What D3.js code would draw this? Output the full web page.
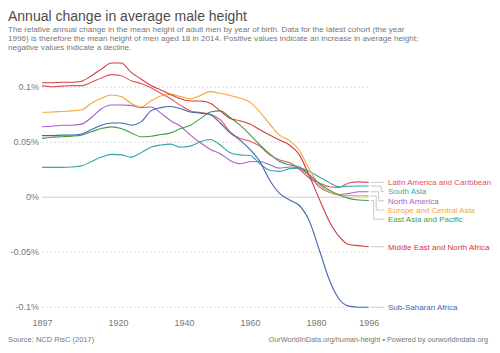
<!DOCTYPE html>
<html>
<head>
<meta charset="utf-8">
<script src="https://cdn.jsdelivr.net/npm/d3@7"></script>
<style>
  body { margin: 0; background: #fff; }
  svg { font-family: "Liberation Sans", Arial, Helvetica, sans-serif; display: block; }
  .axis text { fill: #777; font-size: 9px; }
</style>
</head>
<body>
<svg id="chart"></svg>
<script>
// cohort year of birth
const years = [1897, 1900, 1903, 1906, 1909, 1912, 1915, 1918, 1921, 1924, 1927, 1930,
  1933, 1936, 1939, 1942, 1945, 1948, 1951, 1954, 1957, 1960, 1963, 1966,
  1969, 1972, 1975, 1978, 1981, 1984, 1987, 1990, 1993, 1996];

// annual change in %
const latinAmerica = [0.101, 0.100, 0.1005, 0.101, 0.101, 0.104, 0.108, 0.111, 0.110, 0.1055, 0.103, 0.099,
  0.094, 0.089, 0.083, 0.078, 0.0765, 0.075, 0.070, 0.059, 0.053, 0.0505, 0.046, 0.038,
  0.0333, 0.031, 0.025, 0.017, 0.0125, 0.009, 0.0085, 0.0125, 0.0135, 0.013];
const southAsia = [0.0267, 0.0267, 0.0267, 0.027, 0.028, 0.032, 0.036, 0.0385, 0.038, 0.036, 0.040, 0.045,
  0.047, 0.0478, 0.045, 0.046, 0.050, 0.052, 0.047, 0.040, 0.038, 0.0375, 0.030, 0.024,
  0.023, 0.0255, 0.026, 0.023, 0.018, 0.013, 0.009, 0.0095, 0.0097, 0.0097];
const northAmerica = [0.0636, 0.064, 0.065, 0.065, 0.066, 0.072, 0.080, 0.0834, 0.0834, 0.083, 0.081, 0.0815,
  0.076, 0.069, 0.064, 0.056, 0.049, 0.043, 0.039, 0.033, 0.030, 0.0318, 0.032, 0.029,
  0.026, 0.027, 0.026, 0.019, 0.009, 0.004, 0.002, 0.003, 0.0045, 0.0045];
const europeCentralAsia = [0.0767, 0.077, 0.0775, 0.078, 0.079, 0.085, 0.0895, 0.0925, 0.091, 0.085, 0.0815, 0.087,
  0.0915, 0.093, 0.091, 0.089, 0.092, 0.0955, 0.094, 0.092, 0.0895, 0.086, 0.077, 0.066,
  0.056, 0.051, 0.042, 0.025, 0.011, 0.0045, 0.0015, 0.001, 0.0008, 0.0007];
const eastAsiaPacific = [0.053, 0.054, 0.0545, 0.055, 0.056, 0.059, 0.062, 0.0635, 0.062, 0.058, 0.0545, 0.055,
  0.0565, 0.058, 0.062, 0.065, 0.071, 0.077, 0.078, 0.072, 0.065, 0.0565, 0.047, 0.039,
  0.032, 0.029, 0.027, 0.020, 0.012, 0.006, 0.0015, -0.0015, -0.003, -0.0035];
const middleEast = [0.1036, 0.1036, 0.104, 0.104, 0.105, 0.110, 0.116, 0.1215, 0.1215, 0.113, 0.107, 0.101,
  0.097, 0.093, 0.089, 0.087, 0.087, 0.085, 0.078, 0.071, 0.069, 0.066, 0.061, 0.056,
  0.0515, 0.047, 0.038, 0.019, -0.002, -0.022, -0.036, -0.0435, -0.0445, -0.0455];
const subSaharan = [0.0555, 0.0555, 0.056, 0.056, 0.057, 0.061, 0.065, 0.067, 0.067, 0.065, 0.068, 0.078,
  0.081, 0.082, 0.080, 0.077, 0.076, 0.0745, 0.067, 0.058, 0.0515, 0.043, 0.032, 0.015,
  0.003, -0.003, -0.008, -0.022, -0.048, -0.075, -0.093, -0.0995, -0.1005, -0.1005];

const regionNames = ["Latin America and Caribbean", "South Asia", "North America",
  "Europe and Central Asia", "East Asia and Pacific", "Middle East and North Africa", "Sub-Saharan Africa"];
const regionColors = ["#e0525c", "#35a7a5", "#a95fc8", "#f3a73a", "#3f9e4c", "#d6393b", "#4466b0"];
const regionValues = [latinAmerica, southAsia, northAmerica, europeCentralAsia, eastAsiaPacific, middleEast, subSaharan];

const yTicks = [-0.1, -0.05, 0, 0.05, 0.1];
const xTicks = [1897, 1920, 1940, 1960, 1980, 1996];

const W = 500, H = 353;
const svg = d3.select("#chart").attr("width", W).attr("height", H);

const x = d3.scaleLinear().domain([1897, 1996]).range([42, 368.7]);
const y = d3.scaleLinear().domain([-0.1, 0.1]).range([306.7, 86.7]);

// header
svg.append("text").attr("x", 8).attr("y", 21)
  .attr("font-size", 14).attr("fill", "#4d4d4d")
  .text("Annual change in average male height");
const sub = [
  "The relative annual change in the mean height of adult men by year of birth. Data for the latest cohort (the year",
  "1996) is therefore the mean height of men aged 18 in 2014. Positive values indicate an increase in average height;",
  "negative values indicate a decline."
];
svg.append("g").selectAll("text").data(sub).join("text")
  .attr("x", 8).attr("y", (d, i) => 31.7 + i * 9.3)
  .attr("font-size", 8.1).attr("fill", "#777").text(d => d);

// grid + y axis (hyphen minus like the original)
const yAxis = d3.axisLeft(y).tickValues(yTicks)
  .tickSize(-(x.range()[1] - x.range()[0]))
  .tickPadding(3)
  .tickFormat(d => String(+d.toFixed(2)) + "%");
svg.append("g").attr("class", "axis grid")
  .attr("transform", `translate(${x.range()[0]},0)`)
  .call(yAxis)
  .call(g => g.select(".domain").remove())
  .call(g => g.selectAll(".tick line")
    .attr("stroke", d => d === 0 ? "#ccc" : "#ddd")
    .attr("stroke-dasharray", d => d === 0 ? null : "2,2"));

// x axis labels
const xAxis = d3.axisBottom(x).tickValues(xTicks).tickSize(0).tickPadding(0).tickFormat(d3.format("d"));
svg.append("g").attr("class", "axis")
  .attr("transform", `translate(0,${y(-0.1) + 13})`)
  .call(xAxis)
  .call(g => g.select(".domain").remove());

// lines
const regions = regionNames.map((name, i) => ({
  name, color: regionColors[i],
  points: years.map((yr, j) => ({year: yr, value: regionValues[i][j]}))
}));

const line = d3.line().x(d => x(d.year)).y(d => y(d.value)).curve(d3.curveMonotoneX);
svg.append("g").selectAll("path").data(regions).join("path")
  .attr("d", d => line(d.points))
  .attr("fill", "none")
  .attr("stroke", d => d.color)
  .attr("stroke-width", 1.1);

// labels with simple collision avoidance
const labelX = 388;
const ends = regions.map(r => ({r, yEnd: y(r.points[r.points.length - 1].value)}))
  .sort((a, b) => a.yEnd - b.yEnd);
let prev = -Infinity;
ends.forEach(e => { e.yLab = Math.max(e.yEnd, prev + 9.2); prev = e.yLab; });

const shifted = ends.filter(e => Math.abs(e.yLab - e.yEnd) > 1);
const x0 = x(1996) + 2;
ends.forEach(e => {
  let pts;
  if (Math.abs(e.yLab - e.yEnd) > 1) {
    const k = shifted.length - 1 - shifted.indexOf(e);
    const vx = x0 + 3 + k * 2.5;
    pts = [[x0, e.yEnd], [vx, e.yEnd], [vx, e.yLab], [labelX - 4, e.yLab]];
  } else {
    pts = [[x0, e.yEnd], [labelX - 4, e.yLab]];
  }
  svg.append("path").attr("d", d3.line()(pts))
    .attr("fill", "none").attr("stroke", "#bbb").attr("stroke-width", 0.8);
  svg.append("text").attr("x", labelX).attr("y", e.yLab)
    .attr("dy", "0.35em").attr("font-size", 8)
    .attr("fill", e.r.color).text(e.r.name);
});

// footer
svg.append("text").attr("x", 8).attr("y", 342).attr("font-size", 7.5).attr("fill", "#777")
  .text("Source: NCD RisC (2017)");
svg.append("text").attr("x", 488).attr("y", 342).attr("font-size", 7.3).attr("fill", "#777")
  .attr("text-anchor", "end")
  .text("OurWorldInData.org/human-height • Powered by ourworldindata.org");
</script>
</body>
</html>
